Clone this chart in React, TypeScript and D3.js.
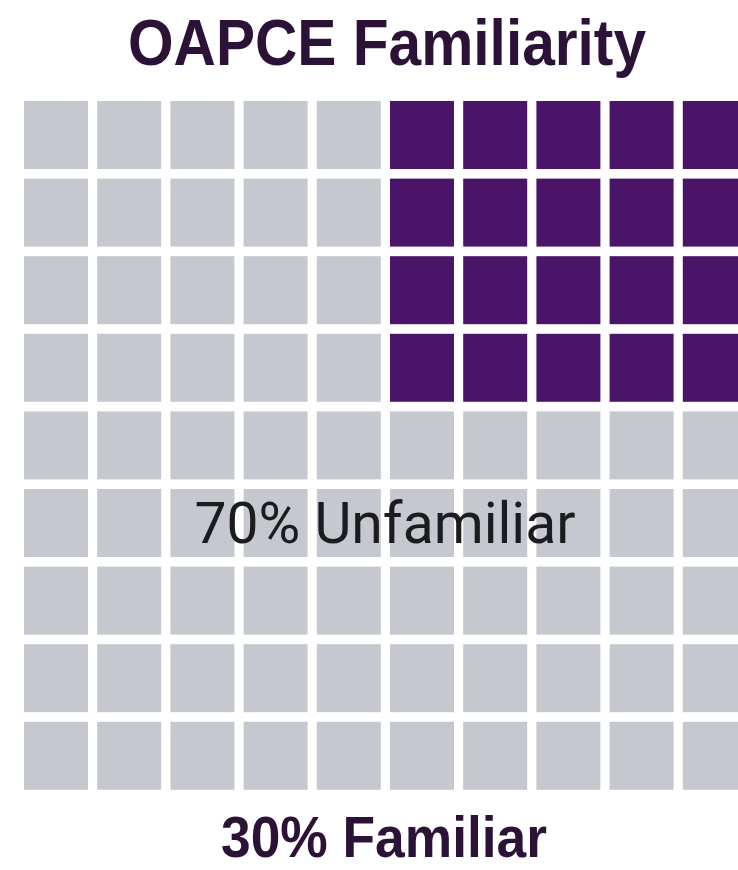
import React from "react";
import * as d3 from "d3";

const title = "OAPCE Familiarity";
const categories = ["Familiar", "Unfamiliar"];
const percentages = [30, 70];
const rowIndex = [0, 1, 2, 3, 4, 5, 6, 7, 8];
const colIndex = [0, 1, 2, 3, 4, 5, 6, 7, 8, 9];
// number of familiar (purple) cells at the right of each row
const familiarPerRow = [5, 5, 5, 5, 0, 0, 0, 0, 0];

const W = 738;
const H = 870;

export default function App() {
  const x = d3
    .scaleBand<number>()
    .domain(colIndex)
    .range([24, 746.8])
    .paddingInner(0.1257)
    .paddingOuter(0);
  const y = d3
    .scaleBand<number>()
    .domain(rowIndex)
    .range([101, 789.8])
    .paddingInner(0.1237)
    .paddingOuter(0);
  const color = d3
    .scaleOrdinal<string, string>()
    .domain(categories)
    .range(["#4a1568", "#c5c8ce"]);

  const cells: { r: number; c: number; cat: string }[] = [];
  rowIndex.forEach((r) => {
    colIndex.forEach((c) => {
      const fam = c >= colIndex.length - familiarPerRow[r];
      cells.push({ r, c, cat: fam ? categories[0] : categories[1] });
    });
  });

  return (
    <div style={{ position: "absolute", left: 0, top: 0, width: W, height: H, background: "#fff" }}>
      <svg width={W} height={H} viewBox={`0 0 ${W} ${H}`} style={{ display: "block" }}>
        <rect x={0} y={0} width={W} height={H} fill="#ffffff" />
        <text
          x={387}
          y={65}
          textAnchor="middle"
          fontFamily="'Liberation Sans', Arial, sans-serif"
          fontWeight={700}
          fontSize={64}
          fill="#2b1236"
          textLength={518}
          lengthAdjust="spacingAndGlyphs"
        >
          {title}
        </text>
        <g>
          {cells.map((d) => (
            <rect
              key={`${d.r}-${d.c}`}
              x={x(d.c)}
              y={y(d.r)}
              width={x.bandwidth()}
              height={y.bandwidth()}
              fill={color(d.cat)}
            />
          ))}
        </g>
        <text
          x={385}
          y={543}
          textAnchor="middle"
          fontFamily="Roboto, sans-serif"
          fontSize={57}
          fill="#1c1c1e"
        >
          {`${percentages[1]}% ${categories[1]}`}
        </text>
        <text
          x={384}
          y={857}
          textAnchor="middle"
          fontFamily="'Liberation Sans', Arial, sans-serif"
          fontWeight={700}
          fontSize={57}
          fill="#2b1236"
          textLength={326}
          lengthAdjust="spacingAndGlyphs"
        >
          {`${percentages[0]}% ${categories[0]}`}
        </text>
      </svg>
    </div>
  );
}
